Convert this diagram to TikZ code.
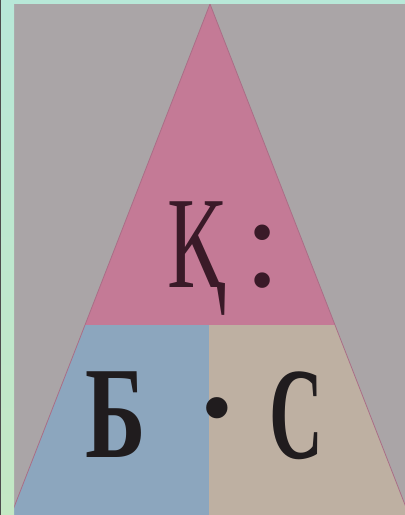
\documentclass[tikz,border=0pt]{standalone}
\usepackage{fontspec}
\setmainfont{Liberation Serif}
\definecolor{bggray}{RGB}{170,165,167}
\definecolor{pinkc}{RGB}{196,122,150}
\definecolor{bluec}{RGB}{140,166,190}
\definecolor{beigec}{RGB}{190,176,162}
\definecolor{greentop}{RGB}{184,232,216}
\definecolor{greenbot}{RGB}{196,232,196}
\definecolor{edgec}{RGB}{170,110,135}
\definecolor{inkc}{RGB}{32,28,30}
\definecolor{inkq}{RGB}{58,26,40}
\begin{document}
\begin{tikzpicture}[x=1pt,y=-1pt,
  letter/.style={font=\fontsize{131}{131}\selectfont\bfseries, text=inkc, inner sep=0pt, anchor=base},
  lightletter/.style={font=\fontsize{131}{131}\selectfont, text=inkq, inner sep=0pt, anchor=base}]
\useasboundingbox (0,0) rectangle (405,515);
\fill[bggray] (0,0) rectangle (405,515);
\coordinate (apex) at (210,4);
\coordinate (bl) at (11,515);
\coordinate (br) at (409,515);
\coordinate (ml) at (85,325);
\coordinate (mr) at (335,325);
\coordinate (mm) at (209,325);
\coordinate (bm) at (209,515);
\fill[pinkc] (apex) -- (mr) -- (ml) -- cycle;
\fill[bluec] (ml) -- (mm) -- (bm) -- (bl) -- cycle;
\fill[beigec] (mm) -- (mr) -- (br) -- (bm) -- cycle;
\draw[edgec, line width=0.8pt] (bl) -- (apex) -- (br);
% frame
\shade[top color=greentop, bottom color=greenbot] (0,0) rectangle (14,515);
\fill[greentop] (0,0) rectangle (405,4);
\fill[black!70] (0,0) rectangle (1.2,515);
% letters
\node[lightletter] (q) at (196,287) {\scalebox{0.66}[1]{Қ}};
\node[lightletter] (colon) at (263,286) {:};
\node[letter] (b) at (116,457) {\scalebox{0.7}[1]{Б}};
\node[letter] (dot) at (217,451) {·};
\node[letter] (c) at (296,458) {\scalebox{0.57}[1]{С}};
\end{tikzpicture}
\end{document}
